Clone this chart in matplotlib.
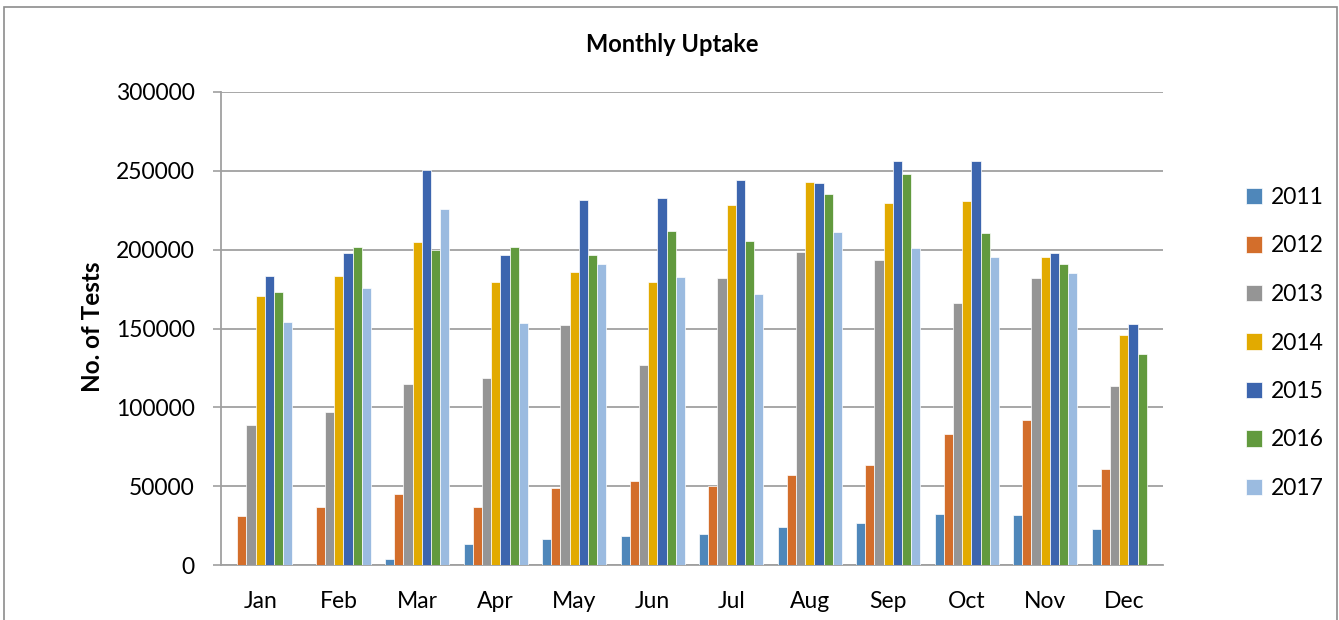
import matplotlib
matplotlib.use("Agg")
import matplotlib.pyplot as plt
import numpy as np
from matplotlib.patches import Rectangle

# data
months = ["Jan", "Feb", "Mar", "Apr", "May", "Jun", "Jul", "Aug", "Sep", "Oct", "Nov", "Dec"]
years = ["2011", "2012", "2013", "2014", "2015", "2016", "2017"]

v2011 = [0, 0, 3600, 13200, 16200, 18300, 19600, 24200, 26700, 32400, 31600, 23100]
v2012 = [31100, 36600, 44800, 36800, 48600, 53000, 50300, 57000, 63200, 83400, 92200, 60700]
v2013 = [89000, 97000, 115000, 118500, 152400, 127000, 181900, 198300, 193700, 166300, 182000, 113800]
v2014 = [170500, 183000, 205000, 179600, 185700, 179800, 228600, 243200, 229900, 230700, 195500, 145600]
v2015 = [183000, 197700, 250700, 196400, 231400, 232600, 244400, 242100, 256200, 256200, 198000, 153100]
v2016 = [173000, 202000, 200000, 201700, 196400, 212000, 205300, 235000, 248000, 210400, 190800, 134100]
v2017 = [154000, 175800, 226000, 153700, 191200, 182500, 171600, 211400, 201300, 195200, 184900, 0]

series = [v2011, v2012, v2013, v2014, v2015, v2016, v2017]
colors = ["#4F87BA", "#D36E2B", "#959595", "#E2AA00", "#3C65AE", "#629A3E", "#9BBBE0"]

plt.rcParams['font.family'] = ['Lato', 'DejaVu Sans']

fig = plt.figure(figsize=(13.39, 6.2), dpi=100)
ax = fig.add_axes([221/1339, 55/620, 942/1339, 473/620])

x = np.arange(len(months))
w = 0.117
for i, (vals, c, yr) in enumerate(zip(series, colors, years)):
    ax.bar(x + (i - 3) * w, vals, width=w, color=c, edgecolor="white",
           linewidth=0.5, label=yr, zorder=3)

ax.set_xlim(-0.5, 11.5)
ax.set_ylim(0, 300000)
ax.set_yticks(range(0, 300001, 50000))
ax.set_yticklabels([str(t) for t in range(0, 300001, 50000)])
ax.set_xticks(x)
ax.set_xticklabels(months)
ax.tick_params(axis="y", labelsize=16.5, length=6, width=1.2, color="#A0A0A0", pad=13)
ax.tick_params(axis="x", labelsize=16.5, length=0, pad=19)
ax.grid(axis="y", color="#A0A0A0", linewidth=1.3, zorder=0)
for s in ["top", "right"]:
    ax.spines[s].set_visible(False)
for s in ["left", "bottom"]:
    ax.spines[s].set_color("#A0A0A0")
    ax.spines[s].set_linewidth(1.3)

fig.text(0.502, 1 - 45/620, "Monthly Uptake", ha="center", va="center",
         fontsize=17, fontweight="bold")
fig.text(92/1339, 1 - 327/620, "No. of Tests", ha="center", va="center",
         rotation=90, fontsize=17.5, fontweight="bold")

fig.legend(loc="center left", bbox_to_anchor=(1246/1339, 1 - 343/620), frameon=False,
           fontsize=16.5, handlelength=0.7, handleheight=0.7, handletextpad=0.4,
           labelspacing=1.2, borderaxespad=0, borderpad=0)

# chart area border
fig.patches.append(Rectangle((4/1339, -0.05), 1333/1339, 1.05 - 7/620,
                             transform=fig.transFigure, fill=False,
                             edgecolor="#8C8C8C", linewidth=1.2))

fig.savefig("out.png", dpi=100)
